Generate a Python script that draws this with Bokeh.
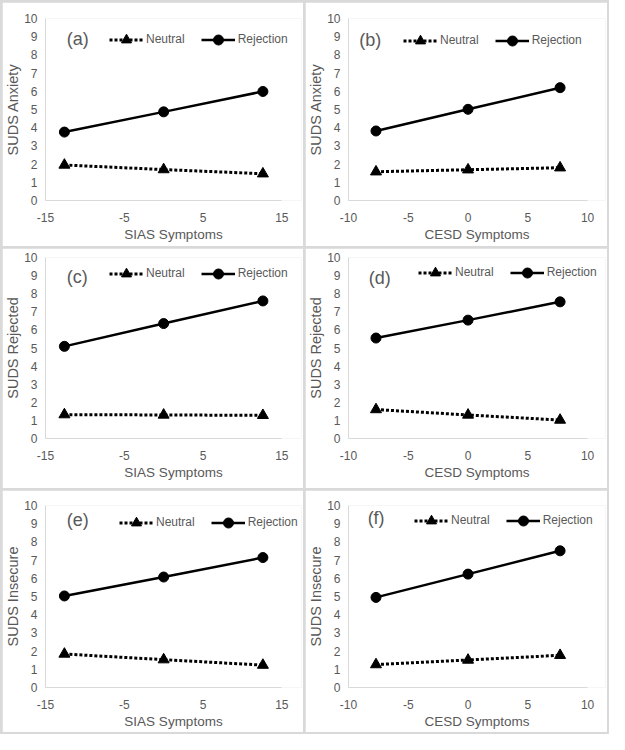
from bokeh.plotting import figure
from bokeh.layouts import column, row
from bokeh.models import FixedTicker, Label, Legend, Range1d, CustomJSTickFormatter
from bokeh.embed import file_html
from bokeh.resources import INLINE

# ---- data ----
sias_x = [-12.6, 0.0, 12.6]
cesd_x = [-7.7, 0.0, 7.7]
sias_ticks = [-15, -5, 5, 15]
cesd_ticks = [-10, -5, 0, 5, 10]
y_ticks = [0, 1, 2, 3, 4, 5, 6, 7, 8, 9, 10]

a_neutral = [1.95, 1.70, 1.47]
a_rejection = [3.76, 4.87, 5.99]
b_neutral = [1.58, 1.69, 1.80]
b_rejection = [3.82, 5.01, 6.20]
c_neutral = [1.32, 1.30, 1.28]
c_rejection = [5.09, 6.35, 7.60]
d_neutral = [1.60, 1.30, 1.02]
d_rejection = [5.55, 6.54, 7.55]
e_neutral = [1.84, 1.53, 1.23]
e_rejection = [5.03, 6.07, 7.14]
f_neutral = [1.26, 1.51, 1.77]
f_rejection = [4.95, 6.23, 7.51]

series_labels = ["Neutral", "Rejection"]
panel_tags = ["(a)", "(b)", "(c)", "(d)", "(e)", "(f)"]
y_titles = ["SUDS Anxiety", "SUDS Rejected", "SUDS Insecure"]
x_titles = ["SIAS Symptoms", "CESD Symptoms"]

FONT = "Liberation Sans"
GRAY = "#595959"
AXIS = "#d9d9d9"


def make_panel(xs, xticks, xlim, xview, neutral, rejection, tag, tag_pos, xtitle, ytitle,
               w, h, borders, legend_pos):
    bl, br, bt, bb = borders
    p = figure(width=w, height=h, x_range=Range1d(*xview), y_range=Range1d(0, 10),
               output_backend="svg", toolbar_location=None,
               min_border_left=bl, min_border_right=br, min_border_top=bt,
               min_border_bottom=bb)
    p.background_fill_color = "white"
    p.border_fill_color = "white"
    p.outline_line_color = None
    p.xgrid.visible = False
    p.ygrid.visible = False

    for ax in (p.xaxis[0], p.yaxis[0]):
        ax.axis_line_color = AXIS
        ax.axis_line_width = 1
        ax.major_tick_line_color = None
        ax.minor_tick_line_color = None
        ax.major_tick_out = 0
        ax.major_tick_in = 0
        ax.minor_tick_out = 0
        ax.minor_tick_in = 0
        ax.major_label_text_color = GRAY
        ax.major_label_text_font = FONT
        ax.major_label_text_font_size = "12px"
        ax.axis_label_text_color = GRAY
        ax.axis_label_text_font = FONT
        ax.axis_label_text_font_style = "normal"
        ax.formatter = CustomJSTickFormatter(code="return String(tick);")
    p.xaxis.axis_label_text_font_size = "13.5px"
    p.yaxis.axis_label_text_font_size = "14.5px"
    p.xaxis.bounds = xlim
    p.xaxis.ticker = FixedTicker(ticks=xticks)
    p.yaxis.ticker = FixedTicker(ticks=y_ticks)
    p.xaxis.axis_label = xtitle
    p.yaxis.axis_label = ytitle
    p.xaxis.major_label_standoff = 12
    p.xaxis.axis_label_standoff = 2
    p.yaxis.major_label_standoff = 8
    p.yaxis.axis_label_standoff = 0

    ln = p.line(xs, neutral, line_color="black", line_width=3, line_dash="3 2")
    mn = p.scatter(xs, neutral, marker="triangle", size=11, fill_color="black",
                   line_color="black")
    lr = p.line(xs, rejection, line_color="black", line_width=2.5)
    mr = p.scatter(xs, rejection, marker="circle", size=10, fill_color="black",
                   line_color="black")

    frame_h = h - bt - bb
    lx, ldist = legend_pos
    legend = Legend(items=[(series_labels[0], [ln, mn]), (series_labels[1], [lr, mr])],
                    orientation="horizontal", location=(lx, frame_h - ldist - 12.5),
                    glyph_width=34, glyph_height=25, label_standoff=3, spacing=16,
                    padding=0, margin=0, border_line_alpha=0, background_fill_alpha=0,
                    label_text_font=FONT, label_text_font_size="12px",
                    label_text_color=GRAY, label_height=25)
    p.add_layout(legend)

    p.add_layout(Label(x=tag_pos[0], y=tag_pos[1], text=tag, text_font=FONT,
                       text_font_size="18px", text_color=GRAY,
                       text_baseline="middle", text_align="left"))
    return p


LW, RW = 301, 302
H = [244, 240, 242]
VB = [(16, 46), (9, 50), (15, 45)]
LB = (43, 2)
RB = (43, 2)
SIAS_LIM, SIAS_VIEW = (-15, 15), (-15, 17.5)
CESD_LIM, CESD_VIEW = (-10, 10), (-10, 11.5)

p1 = make_panel(sias_x, sias_ticks, SIAS_LIM, SIAS_VIEW, a_neutral, a_rejection, panel_tags[0],
                (-12.3, 8.85), x_titles[0], y_titles[0], LW, H[0], (*LB, *VB[0]), (64, 21))
p2 = make_panel(cesd_x, cesd_ticks, CESD_LIM, CESD_VIEW, b_neutral, b_rejection, panel_tags[1],
                (-9.1, 8.8), x_titles[1], y_titles[0], RW, H[0], (*RB, *VB[0]), (55, 22))
p3 = make_panel(sias_x, sias_ticks, SIAS_LIM, SIAS_VIEW, c_neutral, c_rejection, panel_tags[2],
                (-12.3, 8.9), x_titles[0], y_titles[1], LW, H[1], (*LB, *VB[1]), (64, 16))
p4 = make_panel(cesd_x, cesd_ticks, CESD_LIM, CESD_VIEW, d_neutral, d_rejection, panel_tags[3],
                (-8.3, 8.86), x_titles[1], y_titles[1], RW, H[1], (*RB, *VB[1]), (70, 15))
p5 = make_panel(sias_x, sias_ticks, SIAS_LIM, SIAS_VIEW, e_neutral, e_rejection, panel_tags[4],
                (-12.3, 9.18), x_titles[0], y_titles[2], LW, H[2], (*LB, *VB[2]), (74, 17))
p6 = make_panel(cesd_x, cesd_ticks, CESD_LIM, CESD_VIEW, f_neutral, f_rejection, panel_tags[5],
                (-8.4, 9.3), x_titles[1], y_titles[2], RW, H[2], (*RB, *VB[2]), (66, 15))

layout = column(row(p1, p2, spacing=2), row(p3, p4, spacing=2), row(p5, p6, spacing=2),
                spacing=2, styles={"background-color": "#d9d9d9", "padding": "2px"})

open("out.html", "w").write(file_html(layout, INLINE))
